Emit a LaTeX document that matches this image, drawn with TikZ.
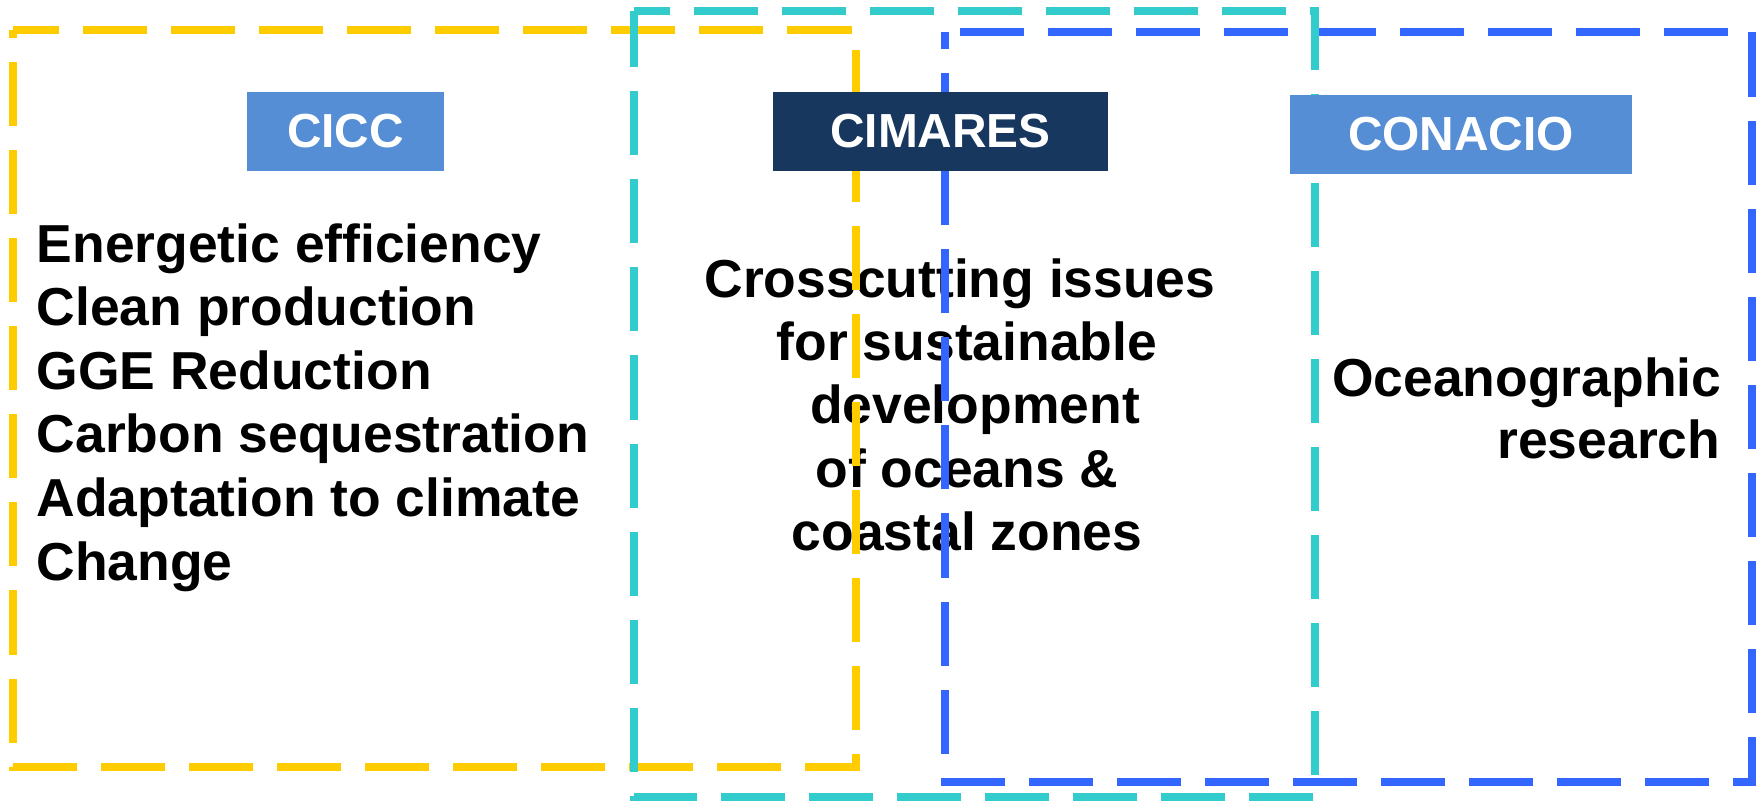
\documentclass[tikz,border=0pt]{standalone}
\usepackage{fontspec}
\setmainfont{Liberation Sans}

\definecolor{ciccyellow}{HTML}{FFCC00}
\definecolor{cimaresteal}{HTML}{33CCCC}
\definecolor{conacioblue}{HTML}{3366FF}
\definecolor{taglight}{HTML}{558ED5}
\definecolor{tagdark}{HTML}{17375E}

\begin{document}
\begin{tikzpicture}[x=0.01cm, y=-0.01cm,
    area/.style={line width=0.078cm, dash pattern=on 0.64cm off 0.24cm},
    txt/.style={font=\fontsize{15.2}{18}\selectfont\bfseries, inner sep=0pt},
    tag/.style={font=\fontsize{13.6}{16}\selectfont\bfseries, inner sep=0pt, text=white, minimum height=0.79cm}]
    \useasboundingbox (0,0) rectangle (1764,800);

    % CICC topics
    \draw (36,262) node[txt, anchor=base west] (eff) {Energetic efficiency};
    \draw (36,325.6) node[txt, anchor=base west] (clean) {Clean production};
    \draw (36,389.2) node[txt, anchor=base west] (gge) {GGE Reduction};
    \draw (36,452.8) node[txt, anchor=base west] (carbon) {Carbon sequestration};
    \draw (36,516.4) node[txt, anchor=base west] (adapt) {Adaptation to climate};
    \draw (36,580) node[txt, anchor=base west] (change) {Change};

    % CIMARES topics
    \draw (960,297) node[txt, anchor=base] (cross) {Crosscutting issues};
    \draw (967,360) node[txt, anchor=base] (sust) {for sustainable};
    \draw (975,423) node[txt, anchor=base] (dev) {development};
    \draw (967,487) node[txt, anchor=base] (oceans) {of oceans \&};
    \draw (967,550) node[txt, anchor=base] (coast) {coastal zones};

    % CONACIO topics
    \draw (1722,396) node[txt, anchor=base east] (ocean) {Oceanographic};
    \draw (1721,458) node[txt, anchor=base east] (research) {research};

    % dashed areas
    \draw[area, ciccyellow, dash phase=0.18cm] (13,30) -- (856,30) -- (856,767) -- (13,767) -- cycle;
    \draw[area, conacioblue, dash phase=0.73cm] (945,32) -- (1752,32) -- (1752,782) -- (945,782) -- cycle;
    \draw[area, cimaresteal, dash phase=0.28cm] (634,11) -- (1315,11) -- (1315,797) -- (634,797) -- cycle;

    % tags
    \draw (345.5,131.5) node[tag, fill=taglight, minimum width=1.97cm] (cicc) {CICC};
    \draw (940.5,131.5) node[tag, fill=tagdark, minimum width=3.35cm] (cimares) {CIMARES};
    \draw (1461,134.5) node[tag, fill=taglight, minimum width=3.41cm] (conacio) {CONACIO};
\end{tikzpicture}
\end{document}
